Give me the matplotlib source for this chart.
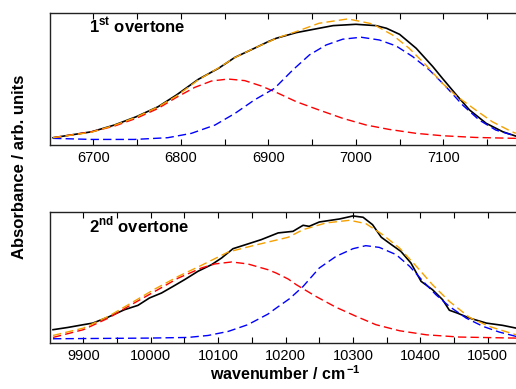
"""Overtone band fits: measured spectrum with two component bands and their sum."""

import matplotlib
matplotlib.use("Agg")
import matplotlib.pyplot as plt
from matplotlib.ticker import MultipleLocator

# ---- 1st overtone (wavenumber / cm-1, absorbance in arb. units) ----
wn1_meas = [6654, 6698, 6724, 6749, 6774, 6795, 6820, 6843, 6862, 6884, 6900,
            6909, 6932, 6958, 6974, 7000, 7023, 7035, 7050, 7069, 7088, 7099,
            7115, 7130, 7149, 7168, 7183]
ab1_meas = [0.056, 0.101, 0.152, 0.215, 0.291, 0.380, 0.499, 0.582, 0.666, 0.734, 0.785,
            0.810, 0.853, 0.886, 0.906, 0.916, 0.906, 0.886, 0.840, 0.734, 0.595, 0.506,
            0.380, 0.266, 0.165, 0.101, 0.068]

wn1_sum = [6654, 6698, 6724, 6749, 6774, 6795, 6820, 6843, 6862, 6884, 6900, 6909,
           6932, 6958, 6991, 7019, 7042, 7061, 7080, 7099, 7115, 7137, 7156, 7176, 7183]
ab1_sum = [0.056, 0.098, 0.150, 0.212, 0.290, 0.372, 0.495, 0.585, 0.665, 0.735, 0.782, 0.810,
           0.861, 0.924, 0.957, 0.919, 0.835, 0.734, 0.608, 0.468, 0.372, 0.266, 0.177, 0.109, 0.089]

wn1_low = [6654, 6698, 6724, 6749, 6774, 6795, 6816, 6835, 6854, 6873, 6892, 6909,
           6932, 6958, 6985, 7012, 7038, 7069, 7099, 7137, 7183]
ab1_low = [0.056, 0.101, 0.144, 0.203, 0.278, 0.362, 0.438, 0.486, 0.501, 0.489, 0.448, 0.400,
           0.329, 0.266, 0.203, 0.152, 0.119, 0.089, 0.071, 0.058, 0.051]

wn1_high = [6654, 6698, 6747, 6785, 6812, 6839, 6862, 6884, 6907, 6928, 6947, 6966,
            6985, 7006, 7027, 7046, 7065, 7084, 7103, 7122, 7141, 7160, 7183]
ab1_high = [0.051, 0.043, 0.043, 0.056, 0.089, 0.152, 0.241, 0.342, 0.430, 0.570, 0.684, 0.759,
            0.803, 0.818, 0.797, 0.752, 0.671, 0.570, 0.443, 0.304, 0.190, 0.114, 0.068]

# ---- 2nd overtone ----
wn2_meas = [9855, 9877, 9900, 9914, 9937, 9961, 9981, 9998, 10016, 10033, 10050, 10070,
            10090, 10105, 10122, 10144, 10164, 10189, 10211, 10226, 10235, 10250, 10280,
            10300, 10315, 10329, 10342, 10357, 10371, 10386, 10401, 10418, 10433, 10443,
            10455, 10473, 10498, 10522, 10542]
ab2_meas = [0.102, 0.119, 0.140, 0.152, 0.198, 0.254, 0.287, 0.343, 0.381, 0.431, 0.482, 0.546,
            0.596, 0.647, 0.718, 0.754, 0.787, 0.838, 0.850, 0.896, 0.888, 0.921, 0.944,
            0.967, 0.957, 0.901, 0.805, 0.749, 0.698, 0.609, 0.470, 0.406, 0.330, 0.250,
            0.228, 0.190, 0.152, 0.135, 0.114]

wn2_sum = [9855, 9900, 9937, 9971, 10006, 10041, 10075, 10115, 10154, 10204, 10226,
           10260, 10295, 10319, 10344, 10369, 10394, 10418, 10443, 10473, 10502, 10542]
ab2_sum = [0.058, 0.114, 0.203, 0.305, 0.411, 0.508, 0.591, 0.693, 0.744, 0.805, 0.863,
           0.914, 0.934, 0.909, 0.825, 0.723, 0.584, 0.444, 0.317, 0.195, 0.127, 0.063]

wn2_low = [9855, 9900, 9937, 9971, 10006, 10041, 10075, 10095, 10120, 10144, 10174,
           10186, 10204, 10216, 10245, 10275, 10305, 10334, 10369, 10409, 10458, 10542]
ab2_low = [0.043, 0.102, 0.190, 0.292, 0.393, 0.495, 0.571, 0.602, 0.617, 0.602, 0.558,
           0.533, 0.487, 0.444, 0.355, 0.272, 0.203, 0.140, 0.094, 0.063, 0.046, 0.038]

wn2_high = [9855, 9996, 10055, 10085, 10115, 10144, 10174, 10186, 10206, 10226, 10250,
            10275, 10300, 10319, 10339, 10364, 10384, 10404, 10423, 10443, 10468, 10493,
            10517, 10542]
ab2_high = [0.033, 0.038, 0.043, 0.058, 0.089, 0.140, 0.221, 0.266, 0.338, 0.431, 0.571,
            0.660, 0.718, 0.741, 0.728, 0.673, 0.584, 0.470, 0.368, 0.279, 0.190, 0.127,
            0.084, 0.051]

plt.rcParams["font.family"] = ["Liberation Sans", "DejaVu Sans"]
plt.rcParams["mathtext.fontset"] = "custom"
plt.rcParams["mathtext.rm"] = "Liberation Sans"
plt.rcParams["mathtext.bf"] = "Liberation Sans:bold"

fig = plt.figure(figsize=(5.16, 3.89), dpi=100)
# axes run a few pixels past the right edge: the right frame is cut off as in the source
ax1 = fig.add_axes([0.097, 0.627, 0.9105, 0.339])
ax2 = fig.add_axes([0.097, 0.118, 0.9105, 0.338])

panels = [
    (ax1, (6650.5, 7187.5), r"1$^{\mathbf{st}}$ overtone",
     (wn1_meas, ab1_meas), (wn1_sum, ab1_sum), (wn1_low, ab1_low), (wn1_high, ab1_high)),
    (ax2, (9850.6, 10547.6), r"2$^{\mathbf{nd}}$ overtone",
     (wn2_meas, ab2_meas), (wn2_sum, ab2_sum), (wn2_low, ab2_low), (wn2_high, ab2_high)),
]

dash = (6, 3)
for ax, xlim, label, meas, tot, low, high in panels:
    ax.plot(*meas, color="black", lw=1.2)
    ax.plot(*low, color="#ff0000", lw=1.0, dashes=dash)
    ax.plot(*high, color="#0000ff", lw=1.0, dashes=dash)
    ax.plot(*tot, color="#f5a000", lw=1.0, dashes=dash)
    ax.set_xlim(*xlim)
    ax.set_ylim(0, 1)
    ax.set_yticks([])
    ax.xaxis.set_major_locator(MultipleLocator(100))
    ax.xaxis.set_minor_locator(MultipleLocator(50))
    ax.tick_params(axis="x", which="both", direction="in", top=True, length=4,
                   width=0.8, labelsize=10.5, pad=4)
    for s in ax.spines.values():
        s.set_linewidth(1.0)
        s.set_color("#222222")
    ax.text(0.082, 0.845, label, transform=ax.transAxes, fontsize=12,
            fontweight="bold", va="baseline", ha="left")

ax2.set_xlabel(r"wavenumber / cm$^{\,\mathbf{-1}}$", fontsize=11.5, fontweight="bold",
               labelpad=1)
fig.text(0.038, 0.572, "Absorbance / arb. units", rotation=90, fontsize=12,
         fontweight="bold", ha="center", va="center")

fig.savefig("out.png", dpi=100)
